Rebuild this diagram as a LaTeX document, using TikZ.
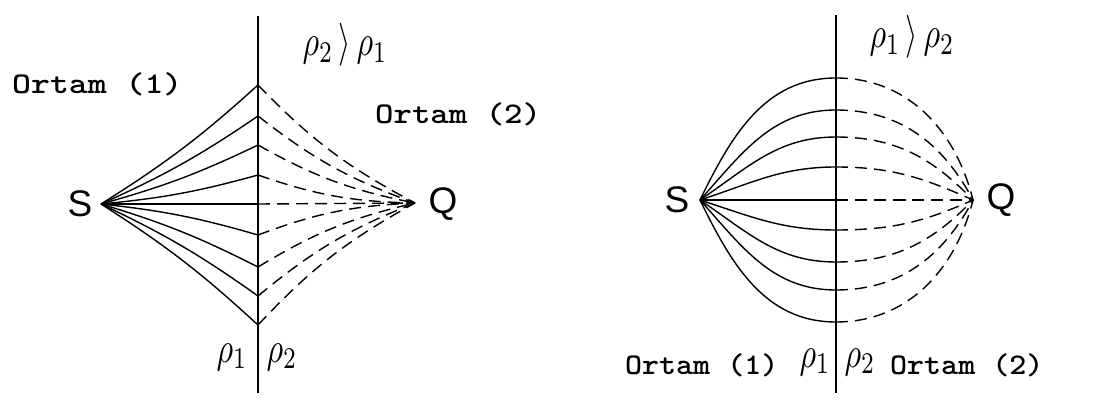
\documentclass[tikz,border=0pt]{standalone}
\usepackage{fontspec}
\setsansfont{Liberation Sans}
\newcommand{\denstext}[1]{\scalebox{3.2}[4.3]{$#1$}}
\newcommand{\medtext}[2]{\scalebox{#1}[1]{#2}}
\begin{document}
\begin{tikzpicture}[x=1pt,y=1pt,
  axisline/.style={line width=1.6pt},
  solidray/.style={line width=1.4pt},
  dashray/.style={line width=1.4pt, dash pattern=on 12pt off 7pt},
  medium/.style={font=\fontsize{30}{34}\selectfont\ttfamily\bfseries, inner sep=0pt},
  pt/.style={font=\fontsize{37}{40}\selectfont\sffamily, inner sep=0pt},
  dens/.style={inner sep=0pt}]
\useasboundingbox (0,0) rectangle (1116,399);
% ---------- left diagram ----------
\coordinate (AxT1) at (258,383);
\coordinate (AxB1) at (258,6);
\draw[axisline] (AxT1) -- (AxB1);
\coordinate (S1) at (101,195);
\coordinate (Q1) at (415,196);
\node[pt] (Slab1) at (80,195) {S};
\node[pt] (Qlab1) at (443,195) {Q};
\foreach \y [count=\i] in {314,283,254,224} {
  \coordinate (U\i) at (258,\y);
  \draw[solidray] (S1) to[bend right=5] (U\i);
  \draw[dashray] (U\i) to[bend right=9] (Q1);
}
\coordinate (M1) at (258,195);
\draw[solidray] (S1) -- (M1);
\draw[dashray] (M1) -- (Q1);
\foreach \y [count=\i] in {164,132,103,74} {
  \coordinate (D\i) at (258,\y);
  \draw[solidray] (S1) to[bend left=5] (D\i);
  \draw[dashray] (D\i) to[bend left=9] (Q1);
}
\node[medium, anchor=west] (O11) at (12,315) {\medtext{1.2}{Ortam (1)}};
\node[medium, anchor=west] (O12) at (375,285) {\medtext{1.17}{Ortam (2)}};
\node[dens] (R1top) at (345,354) {\denstext{\rho_2\,\rangle\,\rho_1}};
\node[dens] (R1a) at (232,42) {\denstext{\rho_1}};
\node[dens] (R1b) at (282,42) {\denstext{\rho_2}};
% ---------- right diagram ----------
\coordinate (AxT2) at (836,384);
\coordinate (AxB2) at (836,6);
\draw[axisline] (AxT2) -- (AxB2);
\coordinate (S2) at (700,199);
\coordinate (Q2) at (973,199);
\node[pt] (Slab2) at (677,199) {S};
\node[pt] (Qlab2) at (1001,199) {Q};
\foreach \y/\a/\b [count=\i] in {321/64/104, 289/48/118, 262/34/134, 232/18/156, 199/0/180, 169/-18/204, 137/-34/226, 109/-48/242, 77/-64/256} {
  \coordinate (P\i) at (836,\y);
  \draw[solidray] (S2) to[out=\a, in=180] (P\i);
  \draw[dashray] (P\i) to[out=0, in=\b] (Q2);
}
\node[dens] (R2top) at (912,362) {\denstext{\rho_1\,\rangle\,\rho_2}};
\node[medium, anchor=west] (O21) at (625,34) {\medtext{1.08}{Ortam (1)}};
\node[medium, anchor=west] (O22) at (890,34) {\medtext{1.08}{Ortam (2)}};
\node[dens] (R2a) at (815,37) {\denstext{\rho_1}};
\node[dens] (R2b) at (860,37) {\denstext{\rho_2}};
\end{tikzpicture}
\end{document}
